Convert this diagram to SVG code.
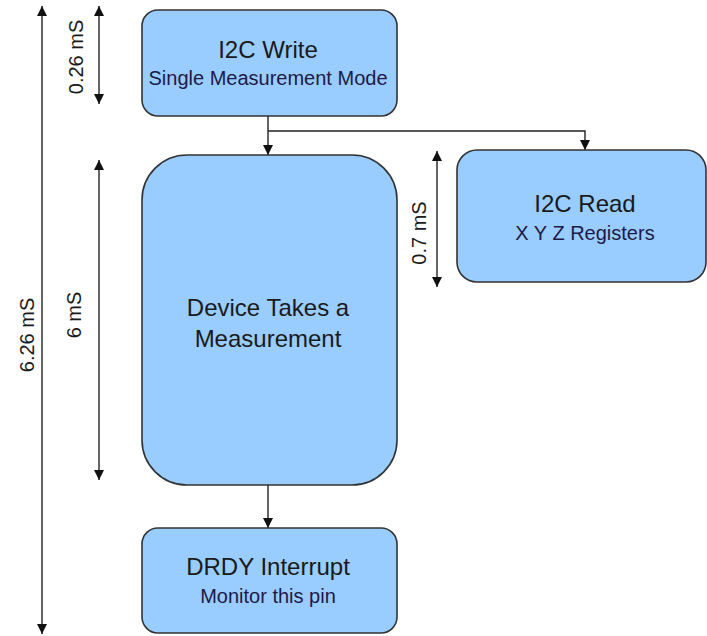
<svg xmlns="http://www.w3.org/2000/svg" width="707" height="636" viewBox="0 0 707 636">
<style>
.box{fill:#99ccff;stroke:#333;stroke-width:1.6}
.t1{font-family:"Liberation Sans",Arial,sans-serif;font-size:24px;fill:#1a1a1a;text-anchor:middle}
.t2{font-family:"Liberation Sans",Arial,sans-serif;font-size:20px;fill:#1e1a48;text-anchor:middle}
.dim{font-family:"Liberation Sans",Arial,sans-serif;font-size:20px;fill:#1a1a1a;text-anchor:middle}
.ln{stroke:#222;stroke-width:1.4;fill:none}
</style>
<defs>
<marker id="ah" viewBox="0 0 10 10" refX="10" refY="5" markerWidth="11" markerHeight="10" markerUnits="userSpaceOnUse" orient="auto-start-reverse"><path d="M0,0 L10,5 L0,10 z" fill="#111"/></marker>
</defs>
<rect width="707" height="636" fill="#fff"/>
<g id="connectors">
<line class="ln" x1="268" y1="116" x2="268" y2="155" marker-end="url(#ah)"/>
<polyline class="ln" points="268,131 585,131 585,150" marker-end="url(#ah)"/>
<line class="ln" x1="268" y1="485" x2="268" y2="528" marker-end="url(#ah)"/>
<line class="ln" x1="42" y1="6" x2="42" y2="634" marker-start="url(#ah)" marker-end="url(#ah)"/>
<line class="ln" x1="99" y1="6" x2="99" y2="104" marker-start="url(#ah)" marker-end="url(#ah)"/>
<line class="ln" x1="99" y1="160" x2="99" y2="480" marker-start="url(#ah)" marker-end="url(#ah)"/>
<line class="ln" x1="437" y1="151" x2="437" y2="287" marker-start="url(#ah)" marker-end="url(#ah)"/>
<text class="dim" transform="translate(34,335) rotate(-90)">6.26 mS</text>
<text class="dim" transform="translate(83,57) rotate(-90)">0.26 mS</text>
<text class="dim" transform="translate(81,315) rotate(-90)">6 mS</text>
<text class="dim" transform="translate(426,233) rotate(-90)">0.7 mS</text>
</g>
<g id="i2c-write">
<rect class="box" x="142" y="10" width="255" height="106" rx="16"/>
<text class="t1" x="268" y="58">I2C Write</text>
<text class="t2" x="268" y="85">Single Measurement Mode</text>
</g>
<g id="device-measure">
<rect class="box" x="142" y="155" width="255" height="330" rx="45"/>
<text class="t1" x="268" y="316">Device Takes a</text>
<text class="t1" x="268" y="347">Measurement</text>
</g>
<g id="i2c-read">
<rect class="box" x="457" y="150" width="249" height="132" rx="20"/>
<text class="t1" x="585" y="212">I2C Read</text>
<text class="t2" x="585" y="240">X Y Z Registers</text>
</g>
<g id="drdy">
<rect class="box" x="142" y="528" width="255" height="105" rx="16"/>
<text class="t1" x="268" y="575">DRDY Interrupt</text>
<text class="t2" x="268" y="603">Monitor this pin</text>
</g>
</svg>
